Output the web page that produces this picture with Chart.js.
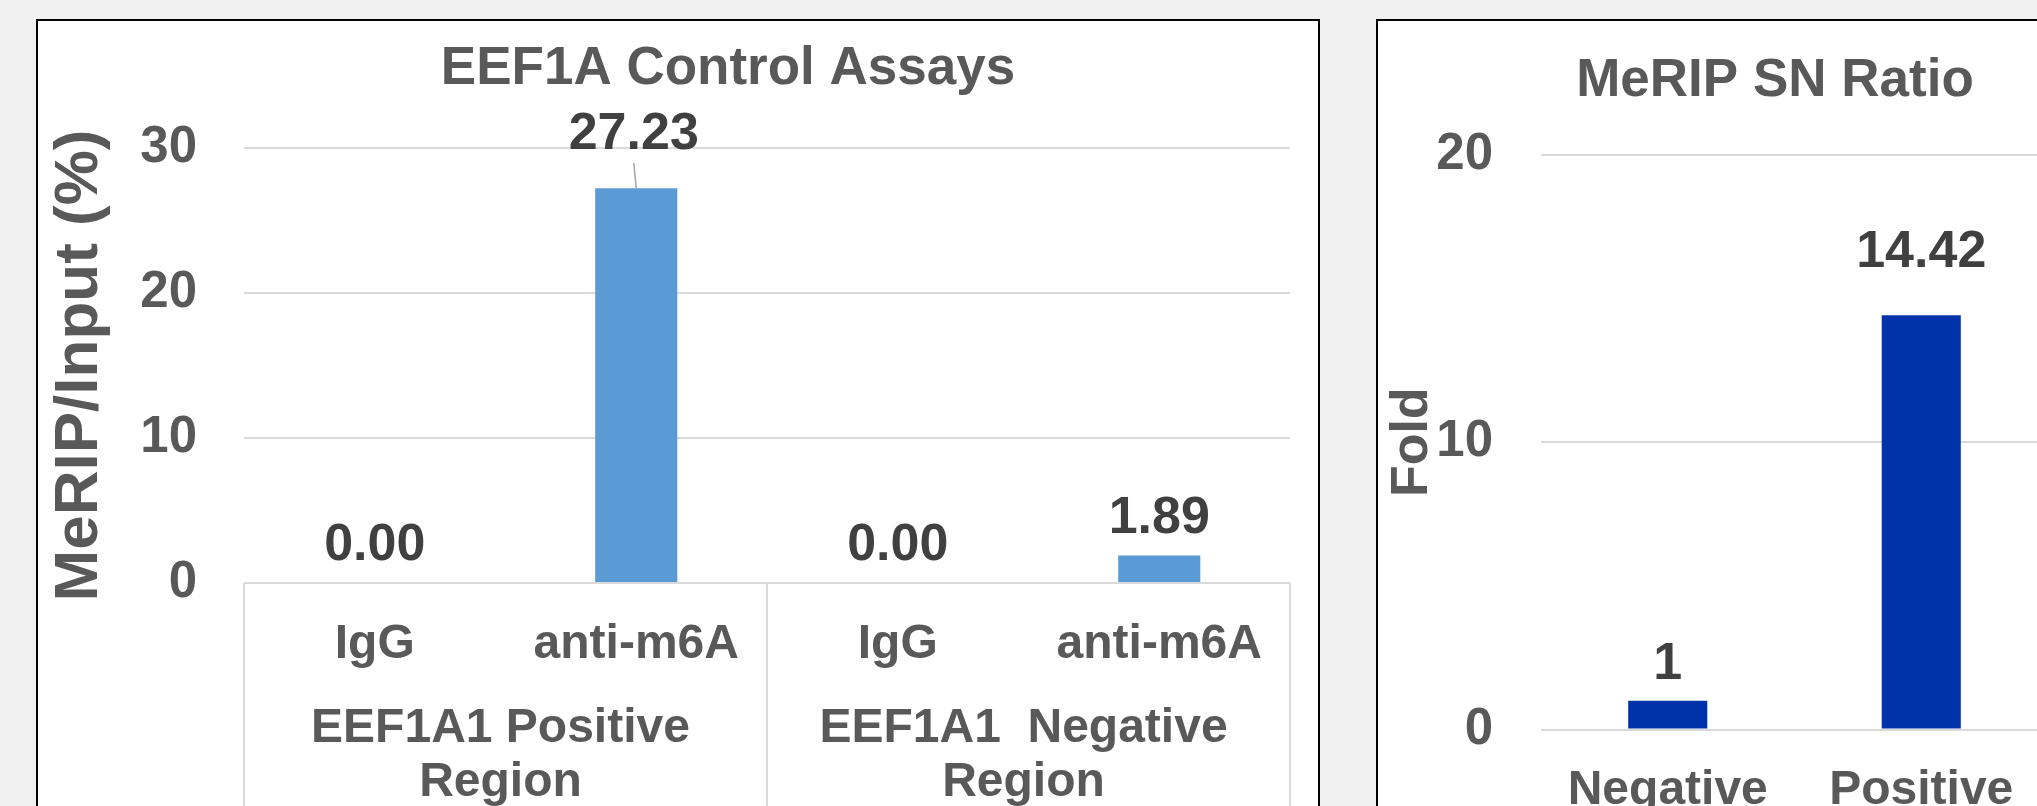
<!DOCTYPE html>
<html>
<head>
<meta charset="utf-8">
<title>EEF1A Control Assays / MeRIP SN Ratio</title>
<script src="https://cdn.jsdelivr.net/npm/chart.js@4.4.1/dist/chart.umd.min.js"></script>
<style>
  html, body { margin: 0; padding: 0; background: #f0f0f0; overflow: hidden; width: 2037px; height: 806px; }
  .panel { position: absolute; top: 19px; height: 900px; background: #fff; border: 2px solid #000; box-sizing: border-box; overflow: hidden; }
  #leftPanel { left: 36px; width: 1284px; }
  #rightPanel { left: 1376px; width: 800px; }
  .panel canvas { position: absolute; left: 0; top: 0; }
</style>
</head>
<body>
<div class="panel" id="leftPanel"><canvas id="assayChart" width="1380" height="860"></canvas></div>
<div class="panel" id="rightPanel"><canvas id="ratioChart" width="794" height="860"></canvas></div>
<script>
// left chart data
const assayLabels = ["IgG", "anti-m6A", "IgG", "anti-m6A"];
const assayGroups = [["EEF1A1 Positive", "Region"], ["EEF1A1  Negative", "Region"]];
const assayValues = [0.00, 27.23, 0.00, 1.89];
const assayTicks = [0, 10, 20, 30];

// right chart data
const ratioLabels = ["Negative", "Positive"];
const ratioValues = [1, 14.42];
const ratioTicks = [0, 10, 20];

const FONT = "'Liberation Sans', Arial, Helvetica, sans-serif";
const TEXT = "#595959";
const GRID = "#d9d9d9";

Chart.defaults.font.family = FONT;
Chart.defaults.font.weight = "bold";
Chart.defaults.color = TEXT;

// chart title, placed where Excel put it (not centred on the plot)
function panelTitle(text, x, y) {
    return {
        id: "panelTitle",
        afterDraw(chart) {
            const ctx = chart.ctx;
            ctx.save();
            ctx.font = "bold 53px " + FONT;
            ctx.fillStyle = TEXT;
            ctx.textAlign = "center";
            ctx.textBaseline = "middle";
            ctx.fillText(text, x, y);
            ctx.restore();
        }
    };
}

// value labels above bars (some were dragged up in the original)
function barLabels(format, offset, lifts, leaderAt, shift) {
    return {
        id: "barLabels",
        afterDatasetsDraw(chart) {
            const ctx = chart.ctx;
            const values = chart.data.datasets[0].data;
            ctx.save();
            ctx.font = "bold 52px " + FONT;
            ctx.fillStyle = "#404040";
            ctx.textAlign = "center";
            ctx.textBaseline = "middle";
            chart.getDatasetMeta(0).data.forEach((bar, i) => {
                const x = bar.x + (leaderAt === i ? shift : 0);
                const y = bar.y - offset - (lifts[i] || 0);
                ctx.fillText(format(values[i]), x, y);
                if (leaderAt === i) {
                    ctx.strokeStyle = "#a6a6a6";
                    ctx.lineWidth = 1.5;
                    ctx.beginPath();
                    ctx.moveTo(x, y + 29);
                    ctx.lineTo(bar.x, bar.y);
                    ctx.stroke();
                }
            });
            ctx.restore();
        }
    };
}

// table-like box under the left axis with the group names
const groupBox = {
    id: "groupBox",
    afterDraw(chart) {
        const ctx = chart.ctx;
        const xs = chart.scales.x;
        const bottom = chart.height;
        const edges = [xs.left];
        assayGroups.forEach((g, gi) => {
            const a = xs.getPixelForValue(gi * 2);
            const b = xs.getPixelForValue(gi * 2 + 1);
            if (gi > 0) edges.push((xs.getPixelForValue(gi * 2 - 1) + a) / 2);
            ctx.save();
            ctx.font = "bold 48px " + FONT;
            ctx.fillStyle = TEXT;
            ctx.textAlign = "center";
            ctx.textBaseline = "middle";
            g.forEach((line, li) => ctx.fillText(line, (a + b) / 2 - 5, xs.top + 146 + li * 54));
            ctx.restore();
        });
        edges.push(xs.right);
        ctx.save();
        ctx.strokeStyle = GRID;
        ctx.lineWidth = 2;
        edges.forEach(x => {
            ctx.beginPath();
            ctx.moveTo(x, xs.top);
            ctx.lineTo(x, bottom);
            ctx.stroke();
        });
        ctx.restore();
    }
};

new Chart(document.getElementById("assayChart"), {
    type: "bar",
    data: {
        labels: assayLabels,
        datasets: [{
            data: assayValues,
            backgroundColor: "#5b9bd5",
            barPercentage: 0.314,
            categoryPercentage: 1
        }]
    },
    options: {
        responsive: false,
        animation: false,
        layout: { padding: { left: 0, right: 128, top: 127, bottom: 0 } },
        plugins: {
            legend: { display: false },
            tooltip: { enabled: false },
            title: { display: false }
        },
        scales: {
            x: {
                grid: { display: false, drawTicks: false },
                border: { display: false },
                ticks: { font: { size: 48 }, color: TEXT, padding: 33, maxRotation: 0, autoSkip: false },
                afterFit: s => { s.height = 298; }
            },
            y: {
                min: assayTicks[0],
                max: assayTicks[assayTicks.length - 1],
                ticks: { stepSize: assayTicks[1] - assayTicks[0], font: { size: 51 }, color: TEXT, padding: 47 },
                grid: { color: GRID, lineWidth: 2, drawTicks: false },
                border: { display: false },
                title: {
                    display: true,
                    text: "MeRIP/Input (%)",
                    color: TEXT,
                    font: { size: 62, weight: "bold" },
                    padding: { top: 5, bottom: 0 }
                },
                afterFit: s => { s.width = 206; }
            }
        }
    },
    plugins: [
        panelTitle("EEF1A Control Assays", 690, 48),
        barLabels(v => v.toFixed(2), 37, [0, 17, 0, 0], 1, -2.5),
        groupBox
    ]
});

new Chart(document.getElementById("ratioChart"), {
    type: "bar",
    data: {
        labels: ratioLabels,
        datasets: [{
            data: ratioValues,
            backgroundColor: "#0033a9",
            barPercentage: 0.312,
            categoryPercentage: 1
        }]
    },
    options: {
        responsive: false,
        animation: false,
        layout: { padding: { left: 0, right: 124, top: 134, bottom: 0 } },
        plugins: {
            legend: { display: false },
            tooltip: { enabled: false },
            title: { display: false }
        },
        scales: {
            x: {
                grid: { display: false, drawTicks: false },
                border: { display: false },
                ticks: { font: { size: 48 }, color: TEXT, padding: 32, maxRotation: 0, autoSkip: false },
                afterFit: s => { s.height = 151.5; }
            },
            y: {
                min: ratioTicks[0],
                max: ratioTicks[ratioTicks.length - 1],
                ticks: { stepSize: ratioTicks[1] - ratioTicks[0], font: { size: 51 }, color: TEXT, padding: 48 },
                grid: { color: GRID, lineWidth: 2, drawTicks: false },
                border: { display: false },
                title: {
                    display: true,
                    text: "Fold",
                    color: TEXT,
                    font: { size: 52, weight: "bold" },
                    padding: { top: 3, bottom: 0 }
                },
                afterFit: s => { s.width = 163; }
            }
        }
    },
    plugins: [
        panelTitle("MeRIP SN Ratio", 397, 60),
        barLabels(v => String(v), 36, [0, 27], -1, 0)
    ]
});
</script>
</body>
</html>
